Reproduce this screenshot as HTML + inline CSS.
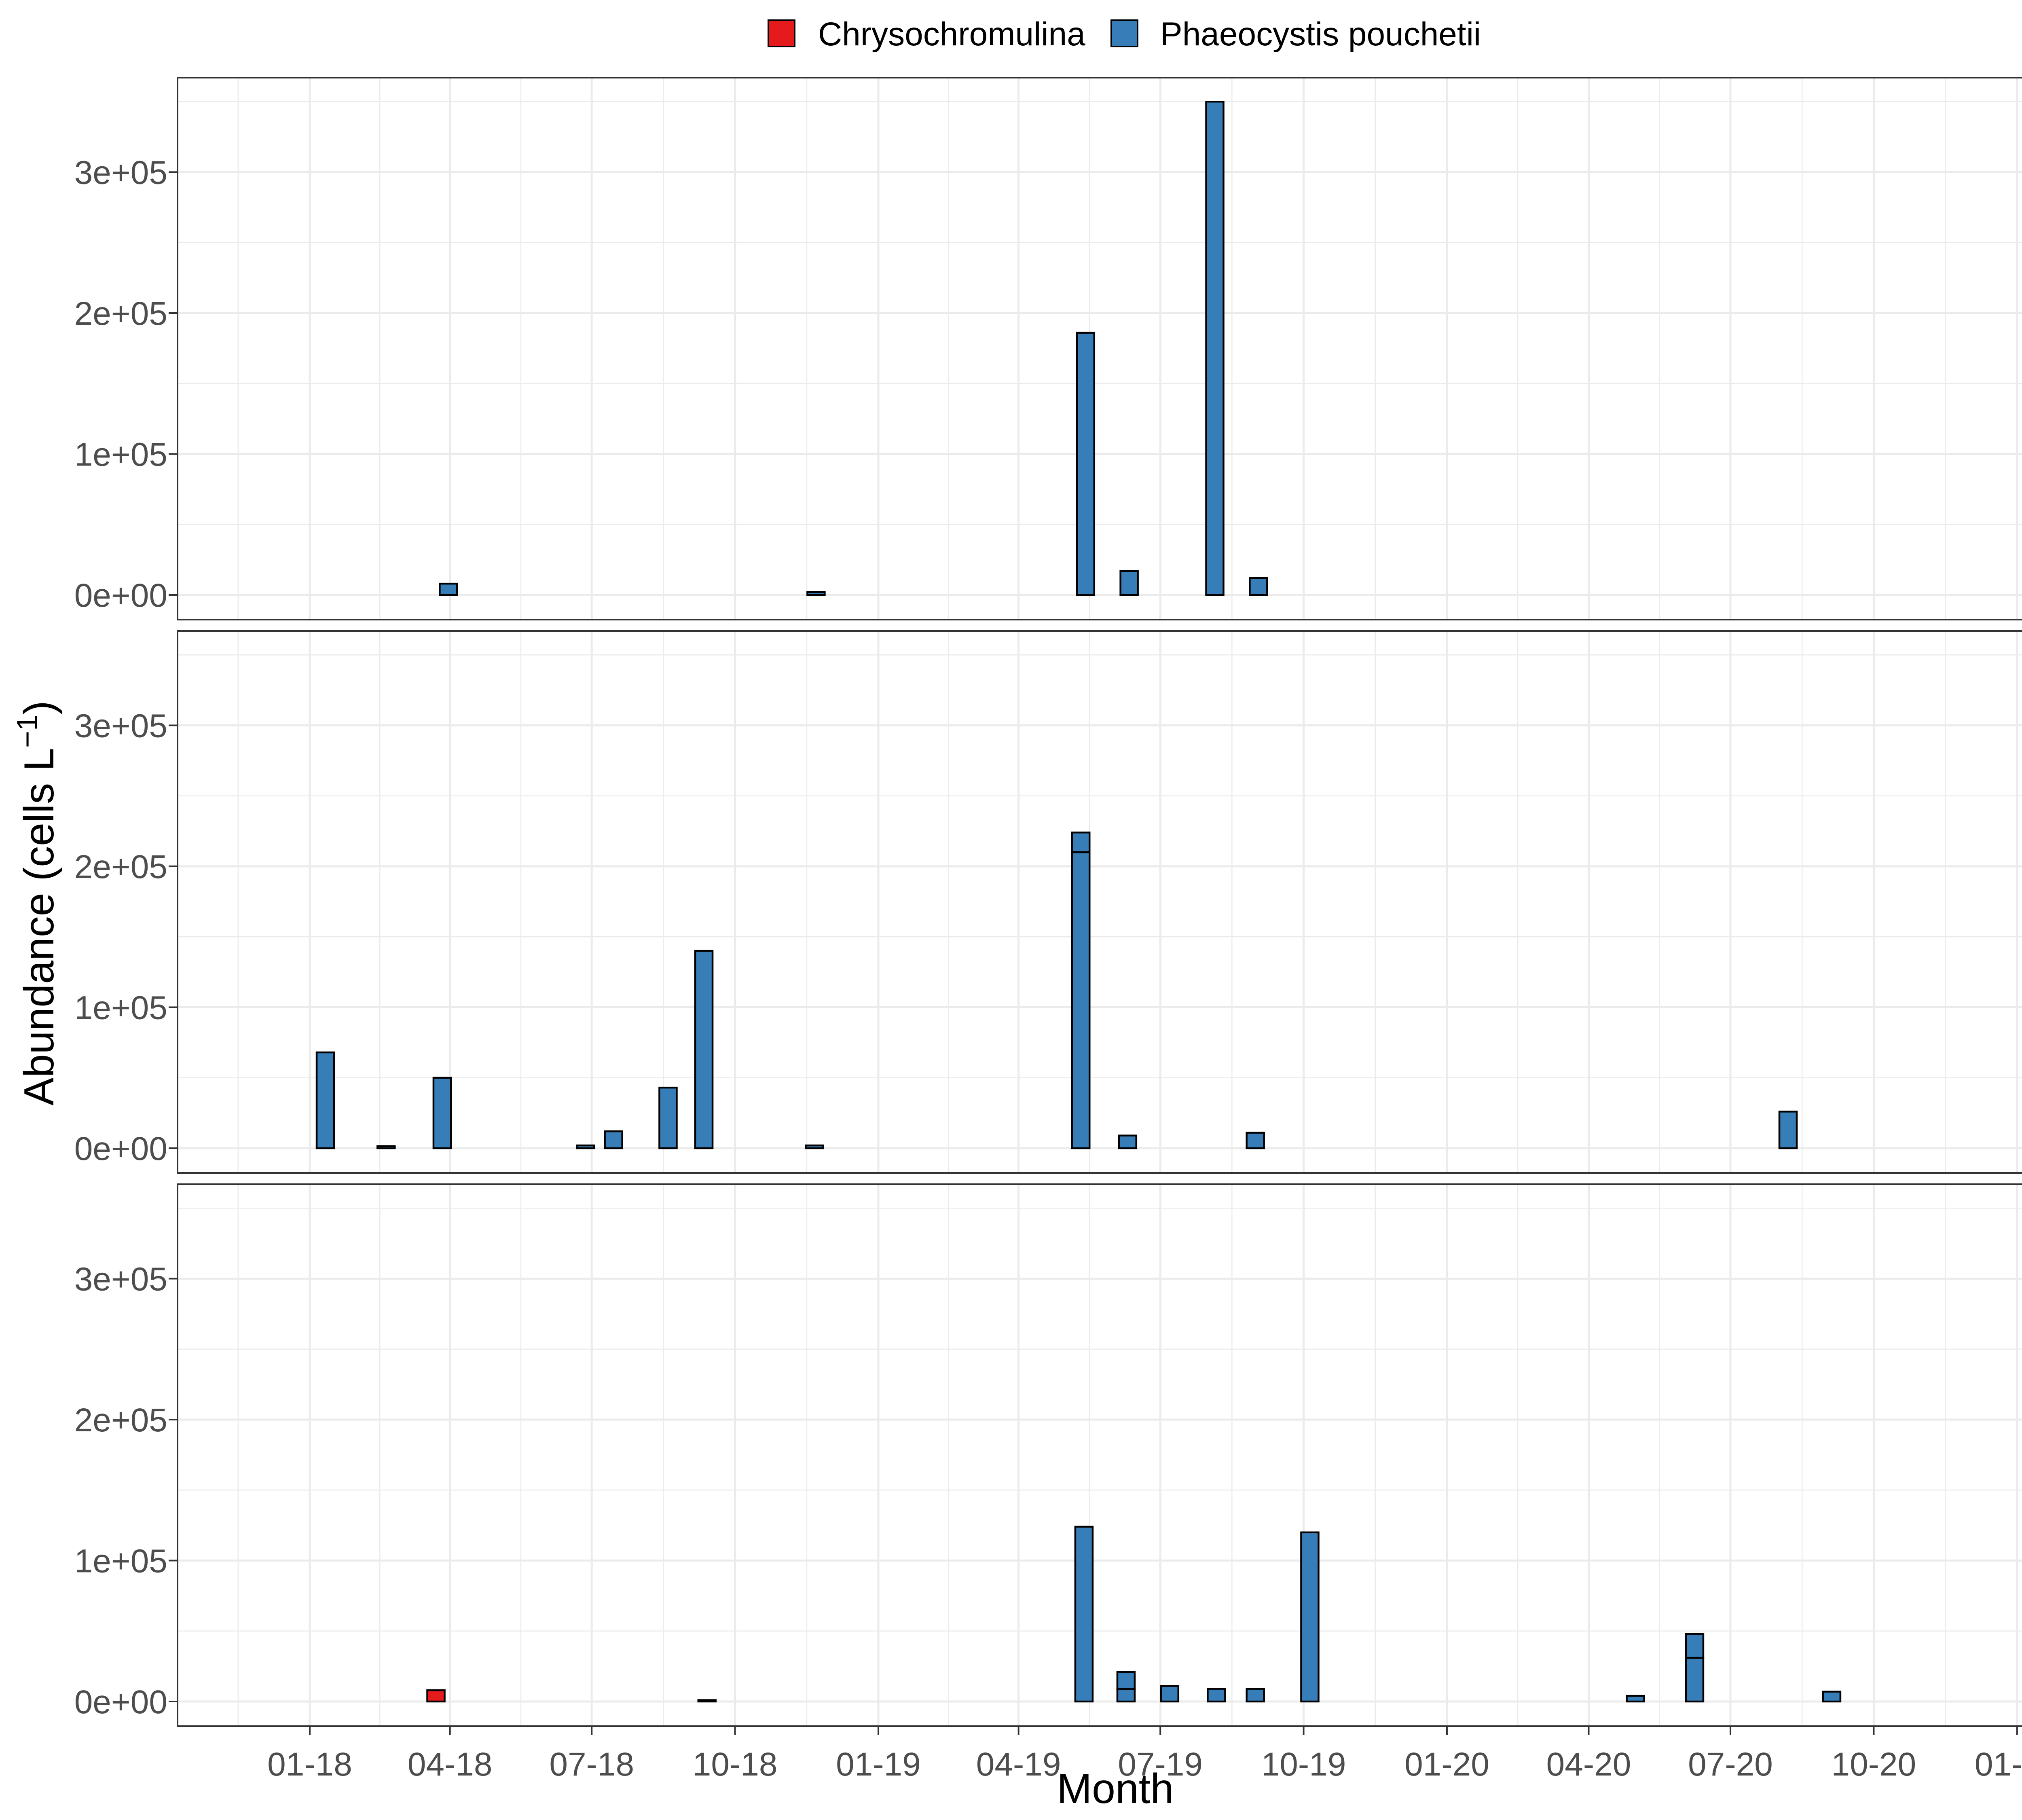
<!DOCTYPE html>
<html><head><meta charset="utf-8">
<style>
html,body{margin:0;padding:0;background:#fff;width:5100px;height:4500px;overflow:hidden;}
svg{display:block;position:absolute;left:0;top:0;font-family:"Liberation Sans",Arial,sans-serif;}
</style></head>
<body>
<svg id="chart" width="5100" height="4500" viewBox="0 0 5100 4500" xmlns="http://www.w3.org/2000/svg">
<g>
 <rect x="1900" y="50" width="65" height="65" fill="#e41a1c" stroke="#000" stroke-width="4"/>
 <text x="2023" y="112" font-size="82" fill="#000">Chrysochromulina</text>
 <rect x="2748" y="50" width="65" height="65" fill="#377eb8" stroke="#000" stroke-width="4"/>
 <text x="2869" y="112" font-size="82" fill="#000">Phaeocystis pouchetii</text>
</g>
<text transform="translate(132,2233) rotate(-90)" text-anchor="middle" font-size="104" fill="#000">Abundance (cells L<tspan dy="-40" font-size="72">−1</tspan><tspan dy="40">)</tspan></text>
<text x="2758" y="4458" text-anchor="middle" font-size="104" fill="#000">Month</text>
</svg>
<script>
// Panel data (days since 2018-01-01, values in cells/L)
const p1Days = [89, 325, 498, 526, 581, 609];
const p1Vals = [8000, 2000, 186000, 17000, 350000, 12000];
const p1Spec = ['P','P','P','P','P','P'];
const p2Days = [10, 49, 85, 177, 195, 230, 253, 324, 495, 495, 525, 607, 949];
const p2Vals = [68000, 1500, 50000, 2000, 12000, 43000, 140000, 2000, 210000, 14000, 9000, 11000, 26000];
const p2Spec = ['P','P','P','P','P','P','P','P','P','P','P','P','P'];
const p3Days = [81, 255, 497, 524, 524, 552, 582, 607, 642, 851, 889, 889, 977];
const p3Vals = [8000, 1000, 124000, 9000, 12000, 11000, 9000, 9000, 120000, 4000, 31000, 17000, 7000];
const p3Spec = ['C','P','P','P','P','P','P','P','P','P','P','P','P'];
const yTicks = [0, 100000, 200000, 300000];
const yTickLabels = ['0e+00','1e+05','2e+05','3e+05'];
const xTickDays = [0, 90, 181, 273, 365, 455, 546, 638, 730, 821, 912, 1004, 1096];
const xTickLabels = ['01-18','04-18','07-18','10-18','01-19','04-19','07-19','10-19','01-20','04-20','07-20','10-20','01-21'];

const NS='http://www.w3.org/2000/svg';
const svg=document.getElementById('chart');
const L=439, R=5077, PH=1340;
const tops=[192,1560,2928];
const x0=766, pxDay=3.852;
const X=d=>x0+d*pxDay;
const yMin=-17500, yMax=367000;
function mk(t,a,p){const e=document.createElementNS(NS,t);for(const k in a)e.setAttribute(k,a[k]);p.appendChild(e);return e;}
const panels=[[p1Days,p1Vals,p1Spec],[p2Days,p2Vals,p2Spec],[p3Days,p3Vals,p3Spec]];
panels.forEach((pd,pi)=>{
  const top=tops[pi], bot=top+PH;
  const Y=v=>bot-(v-yMin)/(yMax-yMin)*PH;
  const g=mk('g',{},svg);
  
  
  for(let v=50000;v<yMax;v+=100000){const l=mk('line',{x1:L,x2:R,y1:Y(v),y2:Y(v),stroke:'#ebebeb','stroke-width':2.5},g);
    
    }
  for(let i=-1;i<xTickDays.length;i++){
    const a=i<0?-92:xTickDays[i], b=i<0?0:(xTickDays[i+1]!==undefined?xTickDays[i+1]:1186);
    const xm=X((a+b)/2); if(xm<L||xm>R) continue;
    const l=mk('line',{x1:xm,x2:xm,y1:top,y2:bot,stroke:'#ebebeb','stroke-width':2.5},g);
    
    }
  yTicks.forEach(v=>{const l=mk('line',{x1:L,x2:R,y1:Y(v),y2:Y(v),stroke:'#ebebeb','stroke-width':5},g);
    
    });
  xTickDays.forEach(d=>{const l=mk('line',{x1:X(d),x2:X(d),y1:top,y2:bot,stroke:'#ebebeb','stroke-width':5},g);
    
    });
  const [days,vals,spec]=pd; const cum={};
  days.forEach((d,i)=>{
    const base=cum[d]||0; const v=vals[i]; cum[d]=base+v;
    const r=mk('rect',{x:X(d)-21.5,width:43,y:Y(base+v),height:Math.max(Y(base)-Y(base+v),0.5),
      fill:spec[i]==='C'?'#e41a1c':'#377eb8',stroke:'#000','stroke-width':4.5},g);
    
    
  });
  const b=mk('rect',{x:L,y:top,width:R-L,height:PH,fill:'none',stroke:'#333','stroke-width':4},g);
  
  
  yTicks.forEach((v,i)=>{
    const t=mk('line',{x1:L-22,x2:L,y1:Y(v),y2:Y(v),stroke:'#333','stroke-width':4},g);
    
    
    const tx=mk('text',{x:L-25,y:Y(v)+29,'text-anchor':'end','font-size':82,fill:'#4d4d4d'},g);
    tx.textContent=yTickLabels[i];
    
    
  });
  if(pi===2){
    xTickDays.forEach((d,i)=>{
      const t=mk('line',{x1:X(d),x2:X(d),y1:bot,y2:bot+22,stroke:'#333','stroke-width':4},g);
      
      
      const tx=mk('text',{x:X(d),y:bot+122,'text-anchor':'middle','font-size':82,fill:'#4d4d4d'},g);
      tx.textContent=xTickLabels[i];
      
      
    });
  }
});
</script>
</body></html>
